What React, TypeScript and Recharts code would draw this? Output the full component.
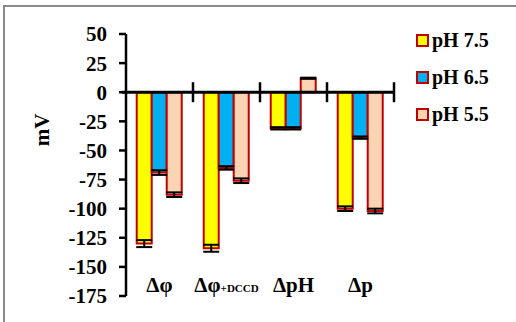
import { BarChart, Bar, XAxis, YAxis, ErrorBar, ReferenceLine } from "recharts";

const categories = ["Δφ", "Δφ+DCCD", "ΔpH", "Δp"];
const ph75 = [-130, -134, -31, -100];
const ph65 = [-69, -65, -31, -39];
const ph55 = [-88, -76, 12, -102];
const err75 = [3, 3, 1, 2];
const err65 = [2, 1.5, 1, 1];
const err55 = [2, 2, 0.5, 2];
const yTicks = [50, 25, 0, -25, -50, -75, -100, -125, -150, -175];

const SERIES = [
  { key: "a", err: "ea", name: "pH 7.5", fill: "#FFFF00" },
  { key: "b", err: "eb", name: "pH 6.5", fill: "#00B0F0" },
  { key: "c", err: "ec", name: "pH 5.5", fill: "#FBD4B4" },
];
const EDGE = "#C00000";
const FONT = "'Liberation Serif', 'Times New Roman', serif";

const data = categories.map((name, i) => ({
  name,
  a: ph75[i],
  b: ph65[i],
  c: ph55[i],
  ea: err75[i],
  eb: err65[i],
  ec: err55[i],
}));

function CatTick({ x, y, payload }: any) {
  const label: string = payload.value;
  const plus = label.indexOf("+");
  return (
    <text x={x} y={y - 4} textAnchor="middle" fontFamily={FONT} fontWeight="bold" fontSize={21} fill="#000">
      {plus < 0 ? (
        label
      ) : (
        <>
          <tspan>{label.slice(0, plus)}</tspan>
          <tspan fontSize={11}>{label.slice(plus)}</tspan>
        </>
      )}
    </text>
  );
}

// zero line with category separator marks
function ZeroLine(props: any) {
  const { x1, y1, x2 } = props;
  const step = (x2 - x1) / categories.length;
  return (
    <g>
      <line x1={x1 - 4} y1={y1} x2={x2} y2={y1} stroke="#000" strokeWidth={3} />
      {categories.map((_, i) => (
        <line
          key={i}
          x1={x1 + step * (i + 1)}
          x2={x1 + step * (i + 1)}
          y1={y1 - 10}
          y2={y1 + 10}
          stroke="#000"
          strokeWidth={2.5}
        />
      ))}
    </g>
  );
}

function LegendBox() {
  return (
    <div style={{ fontFamily: FONT, fontWeight: "bold", fontSize: 20, color: "#000" }}>
      {SERIES.map((s) => (
        <div key={s.key} style={{ display: "flex", alignItems: "center", height: 37 }}>
          <span
            style={{
              display: "inline-block",
              width: 9,
              height: 9,
              background: s.fill,
              border: `2px solid ${EDGE}`,
              marginRight: 3,
            }}
          />
          {s.name}
        </div>
      ))}
    </div>
  );
}

export default function App() {
  return (
    <div style={{ position: "fixed", left: 0, top: 0, width: 516, height: 322, overflow: "hidden", background: "#fff" }}>
      <div
        style={{
          position: "absolute",
          left: 3,
          top: 5,
          width: 600,
          height: 400,
          border: "2px solid #8a8a8a",
        }}
      />
      <div
        style={{
          position: "absolute",
          left: 42,
          top: 130,
          transform: "translate(-50%, -50%) rotate(-90deg)",
          fontFamily: FONT,
          fontWeight: "bold",
          fontSize: 21,
          whiteSpace: "nowrap",
        }}
      >
        mV
      </div>
      <div style={{ position: "absolute", left: 0, top: 0 }}>
        <BarChart
          width={516}
          height={322}
          data={data}
          margin={{ top: 34, right: 122, bottom: 0, left: 0 }}
          barCategoryGap="16%"
          barGap={0}
        >
          <XAxis
            dataKey="name"
            height={26}
            axisLine={false}
            tickLine={false}
            tickSize={0}
            tickMargin={0}
            tick={<CatTick />}
            interval={0}
          />
          <YAxis
            width={126}
            domain={[-175, 50]}
            ticks={yTicks}
            interval={0}
            axisLine={{ stroke: "#000", strokeWidth: 2.5 }}
            tickLine={{ stroke: "#000", strokeWidth: 2.5 }}
            tickSize={7}
            tickMargin={12}
            tick={{ fontFamily: FONT, fontWeight: "bold", fontSize: 21, fill: "#000" }}
          />
          {SERIES.map((s) => (
            <Bar key={s.key} dataKey={s.key} name={s.name} fill={s.fill} stroke={EDGE} strokeWidth={2} isAnimationActive={false}>
              <ErrorBar dataKey={s.err} width={8} stroke="#000" strokeWidth={2} />
            </Bar>
          ))}
          <ReferenceLine y={0} shape={<ZeroLine />} />
        </BarChart>
      </div>
      <div style={{ position: "absolute", left: 416, top: 22 }}>
        <LegendBox />
      </div>
    </div>
  );
}
